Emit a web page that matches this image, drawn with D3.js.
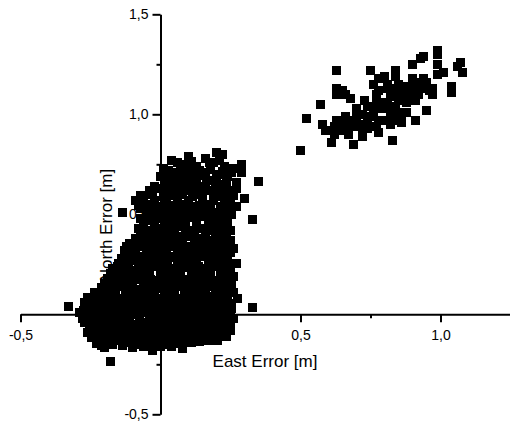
<!DOCTYPE html>
<html>
<head>
<meta charset="utf-8">
<script src="https://cdn.jsdelivr.net/npm/d3@7"></script>
<style>
  body { margin: 0; background: #fff; }
  svg { display: block; }
</style>
</head>
<body>
<div id="chart"></div>
<script>
// east / north error pairs, main cluster around the origin
const nearPoints = [
  [0.20,0.81],[0.22,0.80],[0.10,0.79],[0.16,0.78],[0.04,0.77],
  [0.29,0.75],[0.29,0.71],[0.08,0.75],[0.13,0.74],[0.19,0.76],[0.23,0.74],[0.26,0.73],[0.01,0.73],
  [0.00,0.69],[0.05,0.71],[0.09,0.70],[0.12,0.69],[0.16,0.71],[0.20,0.70],[0.24,0.69],
  [0.35,0.665],[0.03,0.66],[0.07,0.65],[0.11,0.66],[0.14,0.64],[0.18,0.67],[0.22,0.65],[0.27,0.66],
  [-0.04,0.62],[0.00,0.63],[0.04,0.61],[0.08,0.62],[0.13,0.60],[0.17,0.62],[0.21,0.61],[0.25,0.62],
  [-0.09,0.57],[-0.06,0.58],[-0.02,0.57],[0.02,0.56],[0.06,0.58],[0.10,0.57],[0.15,0.56],[0.19,0.57],[0.23,0.58],[0.30,0.58],
  [-0.135,0.51],[-0.07,0.53],[-0.04,0.52],[0.00,0.53],[0.04,0.52],[0.08,0.51],[0.12,0.53],[0.16,0.52],[0.20,0.51],[0.24,0.52],[0.27,0.54],
  [0.33,0.475],[-0.07,0.48],[-0.03,0.47],[0.01,0.48],[0.05,0.46],[0.09,0.48],[0.13,0.47],[0.17,0.48],[0.21,0.46],[0.24,0.48],
  [-0.08,0.43],[-0.04,0.42],[0.00,0.43],[0.03,0.42],[0.07,0.44],[0.11,0.42],[0.15,0.43],[0.19,0.42],[0.22,0.44],[0.25,0.42],
  [-0.09,0.38],[-0.05,0.38],[-0.02,0.37],[0.02,0.38],[0.06,0.37],[0.10,0.39],[0.14,0.38],[0.18,0.37],[0.21,0.38],[0.25,0.37],
  [-0.13,0.32],[-0.10,0.33],[-0.07,0.34],[-0.03,0.33],[0.01,0.32],[0.04,0.34],[0.08,0.33],[0.12,0.32],[0.16,0.34],[0.20,0.33],[0.23,0.32],[0.26,0.33],
  [-0.14,0.28],[-0.11,0.27],[-0.07,0.29],[-0.04,0.28],[0.00,0.27],[0.03,0.29],[0.07,0.28],[0.11,0.27],[0.14,0.29],[0.18,0.28],[0.21,0.27],[0.24,0.29],[0.27,0.255],
  [-0.17,0.23],[-0.13,0.24],[-0.10,0.22],[-0.06,0.23],[-0.03,0.24],[0.01,0.22],[0.04,0.23],[0.08,0.24],[0.12,0.22],[0.15,0.23],[0.19,0.24],[0.22,0.22],[0.25,0.23],
  [-0.19,0.18],[-0.16,0.19],[-0.12,0.17],[-0.09,0.18],[-0.05,0.19],[-0.02,0.17],[0.02,0.18],[0.05,0.19],[0.09,0.17],[0.13,0.18],[0.16,0.19],[0.20,0.17],[0.23,0.18],[0.26,0.19],
  [-0.21,0.135],[-0.18,0.13],[-0.14,0.14],[-0.11,0.13],[-0.07,0.12],[-0.04,0.14],[0.00,0.13],[0.03,0.12],[0.07,0.14],[0.10,0.13],[0.14,0.12],[0.18,0.14],[0.21,0.13],[0.24,0.12],
  [-0.26,0.085],[-0.23,0.09],[-0.20,0.08],[-0.16,0.09],[-0.13,0.08],[-0.09,0.09],[-0.06,0.08],[-0.02,0.09],[0.01,0.08],[0.05,0.09],[0.08,0.08],[0.12,0.09],[0.15,0.08],[0.19,0.09],[0.22,0.08],[0.275,0.08],
  [-0.33,0.04],[-0.25,0.04],[-0.22,0.05],[-0.18,0.04],[-0.15,0.03],[-0.11,0.05],[-0.08,0.04],[-0.04,0.03],[-0.01,0.05],[0.03,0.04],[0.06,0.03],[0.10,0.05],[0.13,0.04],[0.17,0.03],[0.20,0.05],[0.24,0.04],[0.33,0.035],
  [-0.29,0.01],[-0.26,0.00],[-0.23,-0.01],[-0.20,0.00],[-0.16,0.01],[-0.13,-0.01],[-0.09,0.00],[-0.06,0.01],[-0.02,-0.01],[0.01,0.00],[0.05,0.01],[0.08,-0.01],[0.12,0.00],[0.15,0.01],[0.19,-0.01],[0.22,0.00],[0.25,0.01],
  [-0.27,-0.04],[-0.24,-0.05],[-0.21,-0.04],[-0.17,-0.05],[-0.14,-0.04],[-0.10,-0.05],[-0.07,-0.04],[-0.03,-0.05],[0.00,-0.04],[0.03,-0.05],[0.07,-0.04],[0.10,-0.05],[0.14,-0.04],[0.17,-0.05],[0.21,-0.04],[0.24,-0.05],
  [-0.26,-0.09],[-0.24,-0.095],[-0.20,-0.10],[-0.16,-0.09],[-0.13,-0.10],[-0.09,-0.09],[-0.06,-0.10],[-0.02,-0.09],[0.01,-0.10],[0.05,-0.09],[0.08,-0.10],[0.12,-0.09],[0.15,-0.10],[0.19,-0.09],[0.22,-0.10],[0.25,-0.08],
  [-0.23,-0.145],[-0.19,-0.14],[-0.15,-0.13],[-0.12,-0.14],[-0.08,-0.13],[-0.05,-0.14],[-0.01,-0.13],[0.02,-0.14],[0.06,-0.13],[0.09,-0.14],[0.13,-0.13],[0.16,-0.12],[0.22,-0.11],[0.19,-0.12],
  [-0.20,-0.165],[-0.10,-0.165],[-0.03,-0.18],[0.08,-0.17],[0.15,-0.115],[0.00,-0.16],[-0.06,-0.16],[0.04,-0.16],
  [-0.18,-0.235]
];

// more points of the same cluster, lying between the ones above (the cloud is solid there)
const nearPointsDense = [
  [0.06,0.76],[0.11,0.765],[0.175,0.76],[0.21,0.77],
  [0.03,0.72],[0.07,0.725],[0.105,0.72],[0.14,0.72],[0.18,0.725],[0.22,0.715],[0.255,0.71],
  [0.015,0.675],[0.05,0.68],[0.09,0.675],[0.13,0.68],[0.165,0.67],[0.20,0.68],[0.235,0.675],
  [-0.02,0.64],[0.02,0.645],[0.055,0.635],[0.095,0.64],[0.12,0.645],[0.16,0.64],[0.195,0.635],[0.235,0.64],[0.27,0.63],
  [-0.07,0.595],[-0.03,0.60],[0.01,0.59],[0.04,0.595],[0.08,0.60],[0.115,0.59],[0.15,0.595],[0.19,0.60],[0.22,0.59],[0.26,0.595],
  [-0.08,0.545],[-0.05,0.55],[-0.01,0.54],[0.03,0.545],[0.07,0.55],[0.11,0.54],[0.14,0.545],[0.18,0.55],[0.215,0.54],[0.25,0.55],
  [-0.05,0.50],[-0.02,0.505],[0.02,0.50],[0.06,0.495],[0.10,0.50],[0.14,0.505],[0.18,0.50],[0.22,0.49],[0.255,0.50],
  [-0.06,0.45],[-0.02,0.455],[0.02,0.45],[0.05,0.445],[0.09,0.45],[0.13,0.455],[0.17,0.45],[0.20,0.445],[0.235,0.45],
  [-0.07,0.405],[-0.03,0.40],[0.01,0.405],[0.05,0.41],[0.09,0.40],[0.12,0.405],[0.16,0.40],[0.20,0.41],[0.23,0.40],
  [-0.11,0.355],[-0.07,0.36],[-0.04,0.355],[0.00,0.35],[0.04,0.36],[0.08,0.355],[0.12,0.35],[0.16,0.36],[0.195,0.355],[0.23,0.35],
  [-0.12,0.305],[-0.09,0.31],[-0.05,0.30],[-0.01,0.305],[0.02,0.31],[0.06,0.30],[0.10,0.305],[0.13,0.31],[0.17,0.30],[0.21,0.305],[0.25,0.31],
  [-0.15,0.255],[-0.12,0.26],[-0.08,0.25],[-0.05,0.255],[-0.01,0.26],[0.02,0.25],[0.06,0.255],[0.10,0.26],[0.13,0.25],[0.17,0.255],[0.20,0.26],[0.24,0.25],
  [-0.18,0.205],[-0.14,0.21],[-0.11,0.20],[-0.07,0.205],[-0.04,0.21],[0.00,0.20],[0.035,0.205],[0.07,0.21],[0.11,0.20],[0.14,0.205],[0.18,0.21],[0.215,0.20],[0.245,0.205],
  [-0.20,0.155],[-0.17,0.16],[-0.13,0.15],[-0.10,0.155],[-0.06,0.16],[-0.03,0.15],[0.01,0.155],[0.04,0.16],[0.08,0.15],[0.12,0.155],[0.15,0.16],[0.19,0.15],[0.225,0.155],[0.255,0.16],
  [-0.235,0.11],[-0.19,0.105],[-0.16,0.11],[-0.12,0.115],[-0.09,0.105],[-0.05,0.11],[-0.02,0.115],[0.02,0.105],[0.05,0.11],[0.09,0.115],[0.12,0.105],[0.16,0.11],[0.20,0.115],[0.23,0.105],[0.26,0.11],
  [-0.27,0.06],[-0.235,0.065],[-0.20,0.06],[-0.165,0.055],[-0.13,0.06],[-0.095,0.065],[-0.06,0.06],[-0.025,0.055],[0.01,0.06],[0.045,0.065],[0.08,0.06],[0.115,0.055],[0.15,0.06],[0.185,0.065],[0.22,0.06],[0.255,0.055],
  [-0.275,0.02],[-0.24,0.025],[-0.21,0.02],[-0.17,0.015],[-0.14,0.02],[-0.10,0.025],[-0.07,0.02],[-0.035,0.015],[0.00,0.02],[0.03,0.025],[0.07,0.02],[0.10,0.015],[0.14,0.02],[0.17,0.025],[0.21,0.02],[0.235,0.015],
  [-0.28,-0.02],[-0.245,-0.025],[-0.21,-0.02],[-0.18,-0.015],[-0.145,-0.02],[-0.11,-0.025],[-0.075,-0.02],[-0.04,-0.015],[-0.01,-0.02],[0.02,-0.025],[0.06,-0.02],[0.09,-0.015],[0.13,-0.02],[0.16,-0.025],[0.20,-0.02],[0.23,-0.015],[0.26,-0.02],
  [-0.255,-0.065],[-0.22,-0.07],[-0.19,-0.065],[-0.15,-0.06],[-0.12,-0.065],[-0.08,-0.07],[-0.045,-0.065],[-0.01,-0.06],[0.02,-0.065],[0.06,-0.07],[0.09,-0.065],[0.13,-0.06],[0.16,-0.065],[0.20,-0.07],[0.23,-0.065],
  [-0.245,-0.115],[-0.21,-0.12],[-0.175,-0.115],[-0.14,-0.11],[-0.11,-0.115],[-0.07,-0.12],[-0.04,-0.115],[0.00,-0.11],[0.03,-0.115],[0.07,-0.12],[0.10,-0.115],[0.14,-0.11],[0.17,-0.105],[0.205,-0.10],[0.235,-0.11],
  [-0.21,-0.155],[-0.17,-0.15],[-0.135,-0.155],[-0.09,-0.15],[-0.065,-0.145],[-0.02,-0.155],[0.01,-0.15],[0.05,-0.145],[0.11,-0.14],[0.14,-0.135]
];

// the solid core of the cluster, close to the origin
const nearPointsCore = [
  [-0.175,0.175],[-0.14,0.175],[-0.105,0.175],[-0.07,0.175],[-0.035,0.175],[0.005,0.175],[0.035,0.175],[0.07,0.175],[0.105,0.175],[0.145,0.175],[0.18,0.175],[0.215,0.175],[0.245,0.175],
  [-0.195,0.125],[-0.16,0.125],[-0.125,0.125],[-0.09,0.125],[-0.055,0.125],[-0.02,0.125],[0.015,0.125],[0.05,0.125],[0.085,0.125],[0.12,0.125],[0.16,0.125],[0.195,0.125],[0.225,0.125],[0.255,0.125],
  [-0.245,0.075],[-0.215,0.075],[-0.18,0.075],[-0.145,0.075],[-0.11,0.075],[-0.075,0.075],[-0.04,0.075],[-0.005,0.075],[0.03,0.075],[0.065,0.075],[0.10,0.075],[0.135,0.075],[0.17,0.075],[0.205,0.075],[0.24,0.075],
  [-0.265,0.03],[-0.235,0.03],[-0.195,0.03],[-0.16,0.03],[-0.125,0.03],[-0.09,0.03],[-0.055,0.03],[-0.02,0.03],[0.015,0.03],[0.045,0.03],[0.085,0.03],[0.12,0.03],[0.155,0.03],[0.19,0.03],[0.225,0.03],[0.255,0.03],
  [-0.27,-0.005],[-0.245,-0.005],[-0.215,-0.005],[-0.18,-0.005],[-0.145,-0.005],[-0.11,-0.005],[-0.075,-0.005],[-0.04,-0.005],[-0.005,-0.005],[0.03,-0.005],[0.065,-0.005],[0.10,-0.005],[0.135,-0.005],[0.17,-0.005],[0.205,-0.005],[0.235,-0.005],
  [-0.255,-0.05],[-0.225,-0.05],[-0.19,-0.05],[-0.155,-0.05],[-0.12,-0.05],[-0.085,-0.05],[-0.05,-0.05],[-0.015,-0.05],[0.015,-0.05],[0.05,-0.05],[0.085,-0.05],[0.12,-0.05],[0.155,-0.05],[0.19,-0.05],[0.225,-0.05],[0.25,-0.05],
  [-0.25,-0.09],[-0.215,-0.09],[-0.18,-0.09],[-0.145,-0.09],[-0.11,-0.09],[-0.075,-0.09],[-0.04,-0.09],[-0.005,-0.09],[0.03,-0.09],[0.065,-0.09],[0.10,-0.09],[0.135,-0.09],[0.17,-0.09],[0.205,-0.09],[0.235,-0.09],
  [-0.215,-0.13],[-0.17,-0.13],[-0.135,-0.13],[-0.10,-0.13],[-0.065,-0.13],[-0.03,-0.13],[0.005,-0.13],[0.04,-0.13],[0.075,-0.13],[0.11,-0.13],[0.15,-0.13],[0.18,-0.13],[0.205,-0.13]
];

// upper arm of the cluster, between the rows above
const nearPointsUpper = [
  [0.03,0.70],[0.075,0.695],[0.12,0.70],[0.16,0.695],[0.21,0.70],
  [0.02,0.62],[0.06,0.625],[0.10,0.62],[0.15,0.615],[0.19,0.62],[0.23,0.625],
  [-0.055,0.53],[-0.02,0.525],[0.02,0.53],[0.06,0.535],[0.10,0.53],[0.14,0.525],[0.18,0.53],[0.22,0.535],
  [-0.05,0.485],[-0.01,0.49],[0.03,0.485],[0.07,0.48],[0.11,0.485],[0.15,0.49],[0.19,0.485],[0.225,0.48],
  [-0.06,0.44],[-0.02,0.435],[0.015,0.44],[0.05,0.435],[0.09,0.44],[0.13,0.435],[0.17,0.44],[0.205,0.435],[0.24,0.44],
  [-0.07,0.39],[-0.035,0.395],[0.00,0.39],[0.04,0.385],[0.08,0.39],[0.12,0.395],[0.16,0.39],[0.195,0.385],[0.235,0.39],
  [-0.12,0.34],[-0.085,0.345],[-0.05,0.34],[-0.015,0.335],[0.025,0.34],[0.06,0.345],[0.10,0.34],[0.14,0.335],[0.18,0.34],[0.215,0.345],[0.245,0.34],
  [-0.125,0.29],[-0.09,0.285],[-0.055,0.29],[-0.02,0.295],[0.015,0.29],[0.05,0.285],[0.09,0.29],[0.125,0.295],[0.16,0.29],[0.195,0.285],[0.23,0.29],
  [-0.155,0.24],[-0.115,0.245],[-0.08,0.24],[-0.045,0.235],[-0.01,0.24],[0.025,0.245],[0.06,0.24],[0.10,0.235],[0.135,0.24],[0.17,0.245],[0.205,0.24],[0.235,0.235]
];

// second cluster, upper right
const farPoints = [
  [0.50,0.82],[0.52,0.98],[0.57,1.05],[0.63,1.22],[0.58,0.95],[0.59,0.92],[0.61,0.86],[0.62,0.94],
  [0.63,1.13],[0.63,1.10],[0.65,1.12],[0.66,0.99],[0.65,0.95],[0.68,1.08],[0.67,0.92],[0.69,0.85],
  [0.70,1.03],[0.70,0.99],[0.71,0.95],[0.72,0.89],[0.73,1.07],[0.74,0.93],[0.75,1.22],[0.75,0.99],
  [0.76,1.15],[0.77,1.10],[0.77,1.03],[0.78,0.91],[0.78,1.18],[0.78,0.97],[0.80,1.19],[0.80,1.03],
  [0.81,1.13],[0.81,1.06],[0.82,1.00],[0.82,0.95],[0.83,0.87],[0.84,1.22],[0.84,1.19],[0.85,1.15],
  [0.85,1.07],[0.86,1.12],[0.86,1.00],[0.86,0.96],[0.88,1.06],[0.88,1.14],[0.88,1.01],[0.90,1.25],
  [0.91,1.16],[0.91,1.07],[0.91,0.97],[0.91,1.11],[0.93,1.28],[0.94,1.29],[0.94,1.18],[0.95,1.15],
  [0.95,1.02],[0.97,1.13],[0.97,1.10],[0.99,1.30],[0.99,1.32],[0.99,1.25],[0.99,1.20],[1.01,1.21],
  [1.04,1.14],[1.04,1.11],[1.06,1.24],[1.07,1.26],[1.08,1.21],[0.91,1.14],[0.92,1.10],[0.95,1.16],
  [0.90,1.18],[0.93,1.15],[0.78,1.06],[0.83,1.13],[0.84,1.10],[0.77,1.07],[0.74,1.04],[0.72,1.00],
  [0.71,1.00],[0.68,0.97],[0.69,0.94],[0.66,0.96],[0.63,0.97],[0.62,0.90],[0.64,0.92],[0.67,0.90],
  [0.72,0.92],[0.74,0.96],[0.76,1.00],[0.77,1.08],[0.78,1.12],[0.81,1.15],[0.82,1.09],[0.82,1.04],
  [0.84,1.03],[0.85,1.08],[0.87,1.10],[0.89,1.10],[0.93,1.13],[0.96,1.12],[0.64,1.11],[0.66,1.10],
  [0.68,0.94],[0.70,0.96],[0.77,0.94],[0.80,0.97],[0.83,0.97],[0.85,1.01]
];

const xTicks = [-0.5, 0, 0.5, 1.0];
const xTickLabels = ["-0,5", "", "0,5", "1,0"];
const xMinorTicks = [-0.25, 0.25, 0.75, 1.25];
const yTicks = [-0.5, 0, 0.5, 1.0, 1.5];
const yTickLabels = ["-0,5", "", "0,5", "1,0", "1,5"];
const yMinorTicks = [-0.25, 0.25, 0.75, 1.25];

const width = 510;
const height = 423;
const markSize = 9;

const svg = d3.select('#chart')
  .append('svg')
  .attr('width', width)
  .attr('height', height)
  .style('font-family', '"Liberation Sans", Arial, sans-serif');

const x = d3.scaleLinear()
  .domain([-0.5, 1.25])
  .range([20.5, 510.5]);

const y = d3.scaleLinear()
  .domain([-0.5, 1.5])
  .range([414.3, 14.3]);

function styleAxis(g) {
  g.selectAll('path, line').attr('stroke', '#000').attr('stroke-width', 2);
  g.selectAll('text').attr('fill', '#000').attr('font-size', '14px')
    .attr('font-family', '"Liberation Sans", Arial, sans-serif');
}

// x axis through y = 0
svg.append('g')
  .attr('transform', `translate(0,${y(0)})`)
  .call(d3.axisBottom(x).tickValues(xTicks).tickSize(8).tickSizeOuter(0).tickPadding(8)
    .tickFormat((d, i) => xTickLabels[i]))
  .call(styleAxis);

svg.append('g')
  .attr('transform', `translate(0,${y(0)})`)
  .call(d3.axisBottom(x).tickValues(xMinorTicks).tickSize(4).tickFormat(''))
  .call(g => g.select('.domain').remove())
  .call(styleAxis);

// y axis through x = 0
svg.append('g')
  .attr('transform', `translate(${x(0)},0)`)
  .call(d3.axisLeft(y).tickValues(yTicks).tickSize(8).tickSizeOuter(0).tickPadding(4)
    .tickFormat((d, i) => yTickLabels[i]))
  .call(styleAxis);

svg.append('g')
  .attr('transform', `translate(${x(0)},0)`)
  .call(d3.axisLeft(y).tickValues(yMinorTicks).tickSize(4).tickFormat(''))
  .call(g => g.select('.domain').remove())
  .call(styleAxis);

// axis titles
svg.append('text')
  .attr('x', 265)
  .attr('y', 367)
  .attr('text-anchor', 'middle')
  .attr('font-size', '17px')
  .text('East Error [m]');

svg.append('text')
  .attr('transform', 'translate(112,225) rotate(-90)')
  .attr('text-anchor', 'middle')
  .attr('font-size', '17px')
  .text('North Error [m]');

// markers
svg.append('g')
  .attr('shape-rendering', 'crispEdges')
  .selectAll('rect')
  .data(nearPoints.concat(nearPointsDense, nearPointsCore, nearPointsUpper, farPoints))
  .join('rect')
  .attr('x', d => x(d[0]) - markSize / 2)
  .attr('y', d => y(d[1]) - markSize / 2)
  .attr('width', markSize)
  .attr('height', markSize)
  .attr('fill', '#000');
</script>
</body>
</html>
